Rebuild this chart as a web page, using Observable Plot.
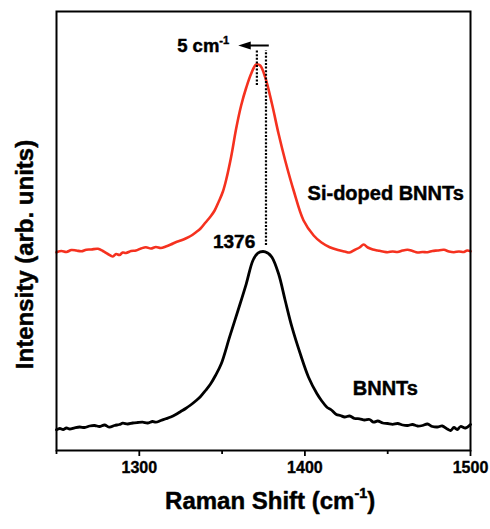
<!DOCTYPE html>
<html><head><meta charset="utf-8">
<script src="https://cdn.jsdelivr.net/npm/d3@7"></script>
<script src="https://cdn.jsdelivr.net/npm/@observablehq/plot@0.6"></script>
<style>body{margin:0;background:#fff} svg{display:block}</style>
</head><body><div id="chart"></div>
<script>
// Si-doped BNNTs (red, offset upward)
const shiftRed = [1250,1253,1256,1259,1262,1265,1268,1271,1275,1278,1281,1284,1286,1288,1290,1292,1295,1298,1301,1304,1307,1310,1313,1316,1319,1322,1325,1328,1331,1334,1337,1340,1343,1345.5,1348,1350.5,1352.5,1355.5,1358.5,1361.5,1364.6,1367.6,1370.6,1373,1376,1380.1,1384.1,1388.1,1393.2,1399.2,1405.3,1410,1415,1420,1424,1427,1430,1433,1435.5,1438,1441,1444,1447,1450,1453,1456,1459,1462,1465,1468,1471,1474,1477,1480,1484,1487,1490,1493,1496,1498,1500];
const intensityRed = [198.3,199.5,198.5,200.5,200,199.2,200.8,201,201.7,199.5,196.5,194,196.5,195.5,198,197.5,199.5,200,202,203.3,202,203.5,202.5,204,206,208.3,210,212,214.5,218,222,228,234,240,249,259,271,294,322,345,363,377,386,385,373.3,346.7,316.7,290,260,230,215,208,203.3,200.5,199,198,200.5,203,206,203,201,200,199,198.3,199,198.5,200,200.7,199.5,198,198.5,198.3,199.5,200,200.7,199,198.3,199,198.5,200,199.3];
// pristine BNNTs (black)
const shiftBlack = [1250,1252,1254,1256,1258,1261,1264,1267,1270,1273,1276,1279,1282,1285,1288,1290,1293,1296,1299,1302,1305,1308,1310,1313,1316,1319,1322,1325,1328,1331,1334,1337,1340,1343,1346,1349.5,1354.5,1359.6,1364.6,1368.6,1371.6,1374.7,1377.5,1380.1,1384.1,1388.1,1392.2,1397.2,1402.2,1407.3,1410,1413.3,1416,1419,1421.4,1424,1427,1430,1433,1436,1439,1441.5,1444,1447,1450,1453,1456,1459,1462,1465,1468,1471,1474,1477,1480,1483,1486,1488,1490,1492,1494,1497,1500];
const intensityBlack = [20.7,22,21,22.5,21.5,22.7,23.5,23,24.5,25,24,25.5,23.3,25,26,27.3,26.5,27.5,28,28.3,27.5,29,28.3,30,31.7,33.5,36,39,42,45.5,49.5,54,60,66.5,75,86.7,113.3,140,166.7,190,197.3,199,197.5,193.3,176.7,150,123.3,96.7,73.3,56.7,50,43.3,40.5,36,35,33.5,34.5,32,31.7,30.5,31,28.3,29.5,27.5,27,26.2,27,25.5,25,26,24.5,25,26.5,24,23.5,24.5,21.5,20,23,21,24,22.5,26];
const xTicksMajor = [1300,1400,1500];
const xTicksMinor = [1250,1350,1450];
const peakSiDoped = 1371;
const peakBNNT = 1376;
const shiftLabel = "5 cm^{-1}";
const seriesNames = ["Si-doped BNNTs","BNNTs"];
const xTitle = "Raman Shift (cm^{-1})";
const yTitle = "Intensity (arb. units)";

const red = shiftRed.map((x,i)=>({x, y: intensityRed[i]}));
const black = shiftBlack.map((x,i)=>({x, y: intensityBlack[i]}));
const FONT = "'Liberation Sans', Arial, Helvetica, sans-serif";
const heavy = {fontWeight: "bold", fill: "#000", stroke: "#000", strokeWidth: 0.45};

const leftHead = {draw(ctx, size){ const r = Math.sqrt(size/Math.PI);
  ctx.moveTo(-1.5*r,0); ctx.lineTo(1.0*r,-0.8*r); ctx.lineTo(1.0*r,0.8*r); ctx.closePath(); }};

const chart = Plot.plot({
  width: 490, height: 529,
  marginTop: 11, marginBottom: 79, marginLeft: 56, marginRight: 20,
  style: {fontFamily: FONT, fontWeight: "bold", background: "#fff", color: "#000"},
  x: {domain: [1250,1500]},
  y: {domain: [0,439], axis: null},
  marks: [
    Plot.axisX({ticks: xTicksMinor, tickSize: 4, tickFormat: () => "", strokeWidth: 1.8, label: null}),
    Plot.axisX({ticks: xTicksMajor, tickSize: 6, tickFormat: d => String(d), strokeWidth: 1.8, fontSize: 16, tickPadding: 7, label: null}),
    Plot.text(xTicksMajor, {x: d => d, frameAnchor: "bottom", dy: 22, text: d => String(d), fontSize: 16, ...heavy, strokeWidth: 0.35}),
    Plot.line(red, {x: "x", y: "y", stroke: "#f5311f", strokeWidth: 2.6, curve: "catmull-rom"}),
    Plot.line(black, {x: "x", y: "y", stroke: "#000", strokeWidth: 2.8, curve: "catmull-rom"}),
    Plot.ruleX([peakSiDoped], {y1: 365, y2: 400, stroke: "#000", strokeWidth: 2.2, strokeDasharray: "2,1.6"}),
    Plot.ruleX([peakBNNT + 0.5], {y1: 205, y2: 400, stroke: "#000", strokeWidth: 2.2, strokeDasharray: "2,1.6"}),
    Plot.ruleY([405], {x1: 1364, x2: 1378.5, stroke: "#000", strokeWidth: 2}),
    Plot.dot([{x: 1364.3, y: 405}], {x: "x", y: "y", symbol: leftHead, r: 5, fill: "#000", stroke: "none"}),
    Plot.text([shiftLabel], {x: 1354.3, y: 404, text: d => d, textAnchor: "end", fontSize: 18.5, ...heavy}),
    Plot.text([String(peakBNNT)], {x: 1370, y: 209, text: d => d, textAnchor: "end", fontSize: 19, ...heavy}),
    Plot.text([seriesNames[0]], {x: 1448.8, y: 257, text: d => d, fontSize: 20, ...heavy}),
    Plot.text([seriesNames[1]], {x: 1448.6, y: 62, text: d => d, fontSize: 20, ...heavy}),
    Plot.text([xTitle], {x: 1379, frameAnchor: "bottom", dy: 58, text: d => d, textAnchor: "middle", fontSize: 24, ...heavy}),
    Plot.text([yTitle], {y: 196, frameAnchor: "left", dx: -31, rotate: -90, text: d => d, textAnchor: "middle", fontSize: 24, ...heavy}),
    Plot.frame({stroke: "#000", strokeWidth: 2})
  ]
});

// hide the axis' own tick labels (drawn above as heavier text marks)
d3.select(chart).selectAll("g[aria-label='x-axis tick label']").remove();

// render ^{...} as superscript tspans
d3.select(chart).selectAll("text").each(function(){
  const t = this.textContent;
  const m = t.match(/^(.*)\^\{(.+?)\}(.*)$/);
  if (!m) return;
  const el = d3.select(this);
  el.text(null);
  el.append("tspan").text(m[1]);
  el.append("tspan").attr("font-size", "0.6em").attr("dy", "-0.75em").text(m[2]);
  if (m[3]) el.append("tspan").attr("dy", "0.45em").text(m[3]);
});
document.getElementById("chart").append(chart);
</script>
</body></html>
